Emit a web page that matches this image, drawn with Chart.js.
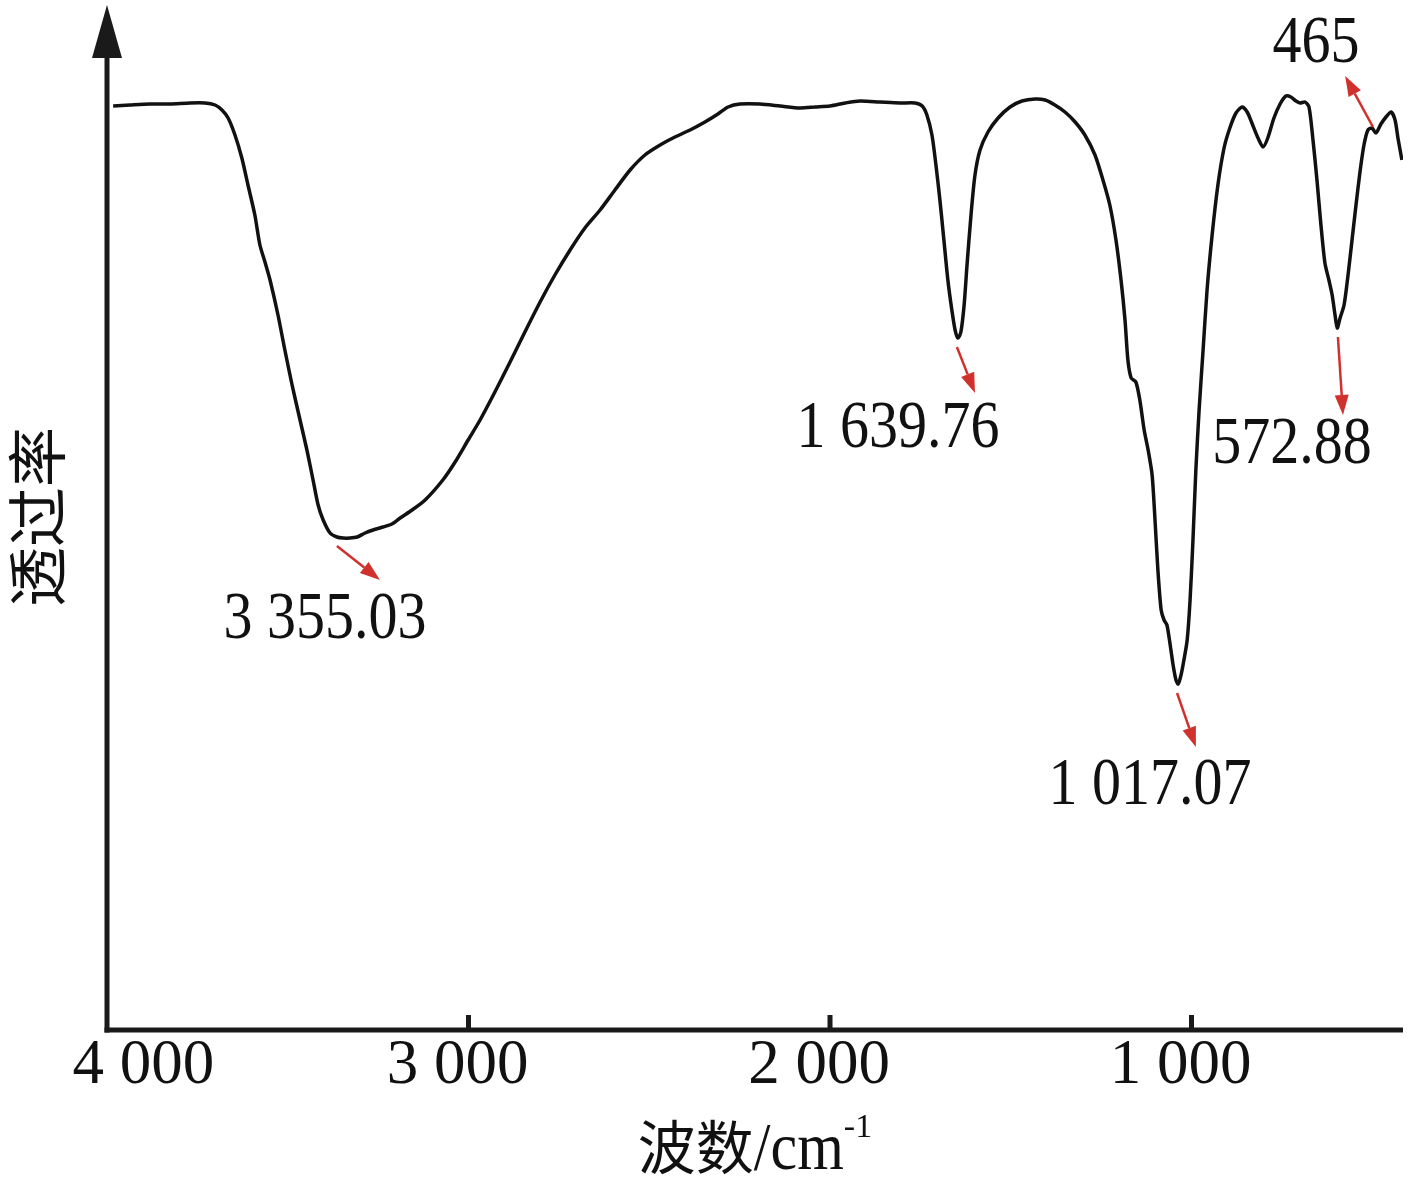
<!DOCTYPE html>
<html><head><meta charset="utf-8">
<script src="https://cdn.jsdelivr.net/npm/chart.js@4/dist/chart.umd.min.js"></script>
<style>html,body{margin:0;padding:0;background:#fff}#wrap{width:1417px;height:1181px;position:relative}</style>
</head><body><div id="wrap"><canvas id="c"></canvas></div>
<script>
// FTIR spectrum: wavenumber (cm-1) vs. transmittance (arbitrary units)
const wavenumbers = [3983,3936,3881,3826,3770,3729,3701,3682,3665,3646,3627,3610,3591,3577,3563,3549,3527,3508,3488,3466,3447,3430,3416,3402,3383,3364,3347,3328,3308,3286,3264,3237,3212,3189,3156,3120,3071,3037,3001,2968,2927,2885,2844,2802,2761,2719,2678,2636,2595,2553,2512,2470,2429,2387,2346,2310,2282,2249,2194,2138,2083,2041,2000,1958,1917,1862,1806,1765,1745,1732,1718,1707,1696,1685,1674,1663,1654,1646,1638,1629,1621,1610,1599,1585,1563,1535,1502,1469,1433,1405,1378,1350,1322,1295,1267,1245,1226,1209,1195,1184,1176,1167,1154,1143,1131,1120,1109,1101,1093,1084,1076,1068,1059,1051,1043,1037,1029,1021,1012,1004,996,988,979,968,957,943,927,910,894,877,860,846,833,816,802,789,772,755,739,725,711,700,686,675,664,653,642,631,620,611,603,597,589,578,567,556,545,534,523,512,501,490,476,462,448,437,429,418];
const transmittance = [92.1,92.2,92.3,92.3,92.4,92.4,92.2,91.7,90.9,89.2,86.9,84.2,81.2,78.2,76.5,74.7,71.2,67.7,64.2,60.7,57.7,54.7,52.2,50.7,49.4,49.0,48.9,48.9,49.0,49.4,49.7,50.0,50.3,50.9,51.7,52.7,54.7,56.5,58.7,60.7,63.5,66.5,69.5,72.5,75.2,77.7,79.9,81.7,83.7,85.7,87.2,88.2,89.0,89.7,90.5,91.3,92.0,92.3,92.3,92.1,91.9,92.0,92.1,92.4,92.6,92.5,92.4,92.4,92.1,91.2,89.2,86.2,82.7,78.7,74.7,71.7,69.7,68.9,69.5,72.2,76.2,81.2,85.2,87.7,89.5,90.9,92.0,92.6,92.8,92.7,92.2,91.5,90.5,89.2,87.2,84.7,82.2,78.7,74.7,70.7,66.7,64.9,64.5,62.7,59.7,57.7,55.2,50.7,45.7,41.7,40.7,40.2,38.2,36.2,34.7,34.3,35.2,36.7,38.7,42.7,48.7,55.7,61.7,67.7,73.7,79.2,84.2,87.9,89.9,91.4,92.0,91.5,90.4,88.9,88.0,88.9,90.9,92.3,93.1,93.0,92.6,92.4,92.5,92.0,88.7,84.7,80.2,76.4,74.7,73.2,71.2,69.9,70.9,72.2,75.2,78.7,82.2,85.5,88.2,89.7,89.9,89.4,90.3,91.0,91.5,90.7,88.9,86.7];

const xTickValues = [4000, 3000, 2000, 1000];
const xMin = 415, xMax = 4000;

// Peak annotations (data coordinates)
const peakLabels = ["3 355.03", "1 639.76", "1 017.07", "572.88", "465"];
const arrowFromX = [3364, 1649, 1040, 595, 498];
const arrowFromY = [48.1, 68.0, 33.4, 69.0, 90.0];
const arrowToX   = [3245, 1599, 988, 581, 575];
const arrowToY   = [44.7, 63.4, 28.0, 61.2, 95.1];
const labelX     = [3397, 1812, 1115, 722, 656];
const labelY     = [38.9, 58.0, 22.3, 56.4, 96.5];

const xTitleMain = "波数/cm";
const xTitleSup = "-1";
const yTitle = "透过率";

function fmtTick(v){
  const s = String(v);
  const t = v >= 1000 ? s.slice(0, s.length-3) + " " + s.slice(-3) : s;
  // first label sits to the right of the axis corner, as in the original figure
  return v === xMax ? "\u2007\u2007\u2007" + t : t;
}

const overlay = {
  id: 'overlay',
  afterDraw(chart){
    const ctx = chart.ctx, a = chart.chartArea;
    const xs = chart.scales.x, ys = chart.scales.y;
    ctx.save();
    ctx.fillStyle = '#1a1a1a'; ctx.strokeStyle = '#1a1a1a';
    // axes
    ctx.lineWidth = 5; ctx.lineCap = 'butt';
    ctx.beginPath(); ctx.moveTo(a.left, a.bottom + 5.5); ctx.lineTo(a.left, a.top + 30); ctx.stroke();
    ctx.beginPath(); ctx.moveTo(a.left - 15, a.top + 31); ctx.lineTo(a.left + 15, a.top + 31); ctx.lineTo(a.left, a.top - 22); ctx.closePath(); ctx.fill();
    ctx.beginPath(); ctx.moveTo(a.left - 2.5, a.bottom + 3); ctx.lineTo(a.right, a.bottom + 3); ctx.stroke();
    // inward ticks
    xs.ticks.forEach(t => {
      const px = xs.getPixelForValue(t.value);
      if (Math.abs(px - a.left) < 3) return;
      ctx.beginPath(); ctx.moveTo(px, a.bottom + 1); ctx.lineTo(px, a.bottom - 12); ctx.stroke();
    });
    // peak arrows
    ctx.strokeStyle = '#d0312d'; ctx.fillStyle = '#d0312d'; ctx.lineWidth = 2.5;
    for (let i = 0; i < peakLabels.length; i++){
      const x1 = xs.getPixelForValue(arrowFromX[i]), y1 = ys.getPixelForValue(arrowFromY[i]);
      const x2 = xs.getPixelForValue(arrowToX[i]), y2 = ys.getPixelForValue(arrowToY[i]);
      const ang = Math.atan2(y2 - y1, x2 - x1);
      const hl = 20, hw = 7;
      const bx = x2 - hl*Math.cos(ang), by = y2 - hl*Math.sin(ang);
      ctx.beginPath(); ctx.moveTo(x1, y1); ctx.lineTo(bx, by); ctx.stroke();
      ctx.beginPath(); ctx.moveTo(x2, y2);
      ctx.lineTo(bx + hw*Math.sin(ang), by - hw*Math.cos(ang));
      ctx.lineTo(bx - hw*Math.sin(ang), by + hw*Math.cos(ang));
      ctx.closePath(); ctx.fill();
    }
    // peak labels
    ctx.fillStyle = '#111';
    ctx.font = '58px "Liberation Serif", "Times New Roman", serif';
    ctx.textAlign = 'center'; ctx.textBaseline = 'alphabetic';
    for (let i = 0; i < peakLabels.length; i++){
      const lx = xs.getPixelForValue(labelX[i]), ly = ys.getPixelForValue(labelY[i]);
      ctx.save(); ctx.translate(lx, ly); ctx.scale(1, 1.18); ctx.fillText(peakLabels[i], 0, 0); ctx.restore();
    }
    // x title
    const cx = (a.left + a.right) / 2;
    ctx.textAlign = 'left';
    ctx.font = '58px "Noto Sans CJK SC", sans-serif';
    const cjk = xTitleMain.slice(0, 2), rest = xTitleMain.slice(2);
    const wCjk = ctx.measureText(cjk).width;
    ctx.font = '60px "Liberation Serif", serif';
    const wRest = ctx.measureText(rest).width;
    ctx.font = '34px "Liberation Serif", serif';
    const wSup = ctx.measureText(xTitleSup).width;
    let tx = cx - (wCjk + wRest + wSup) / 2;
    const ty = a.bottom + 142;
    ctx.font = '58px "Noto Sans CJK SC", sans-serif';
    ctx.fillText(cjk, tx, ty); tx += wCjk;
    ctx.font = '60px "Liberation Serif", serif';
    ctx.save(); ctx.translate(tx, ty); ctx.scale(1, 1.12); ctx.fillText(rest, 0, 0); ctx.restore(); tx += wRest;
    ctx.font = '34px "Liberation Serif", serif';
    ctx.fillText(xTitleSup, tx, ty - 32);
    // y title
    ctx.save();
    ctx.translate(a.left - 70, (a.top + a.bottom) / 2 - 10);
    ctx.rotate(-Math.PI / 2);
    ctx.textAlign = 'center'; ctx.textBaseline = 'middle';
    ctx.font = '60px "Noto Sans CJK SC", sans-serif';
    ctx.fillText(yTitle, 0, 0);
    ctx.restore();
    ctx.restore();
  }
};

new Chart(document.getElementById('c'), {
  type: 'line',
  data: {
    datasets: [{
      data: wavenumbers.map((w, i) => ({x: w, y: transmittance[i]})),
      borderColor: '#111', borderWidth: 3.5, pointRadius: 0, tension: 0.25, fill: false
    }]
  },
  options: {
    responsive: true, maintainAspectRatio: false, animation: false,
    layout: {padding: {left: 107, right: 14, top: 27, bottom: 0}},
    plugins: {legend: {display: false}, tooltip: {enabled: false}},
    scales: {
      x: {
        type: 'linear', reverse: true, min: xMin, max: xMax,
        afterBuildTicks: s => { s.ticks = xTickValues.map(v => ({value: v})); },
        afterFit: s => { s.height = 154; s.paddingLeft = 0; s.paddingRight = 0; },
        grid: {display: false, drawTicks: false},
        border: {display: false},
        ticks: {
          padding: 2, labelOffset: -11, maxRotation: 0, autoSkip: false, color: '#111',
          font: {family: '"Liberation Serif", "Times New Roman", serif', size: 63},
          callback: v => fmtTick(v)
        }
      },
      y: {type: 'linear', min: 0, max: 100, display: false}
    }
  },
  plugins: [overlay]
});
</script>
</body></html>
